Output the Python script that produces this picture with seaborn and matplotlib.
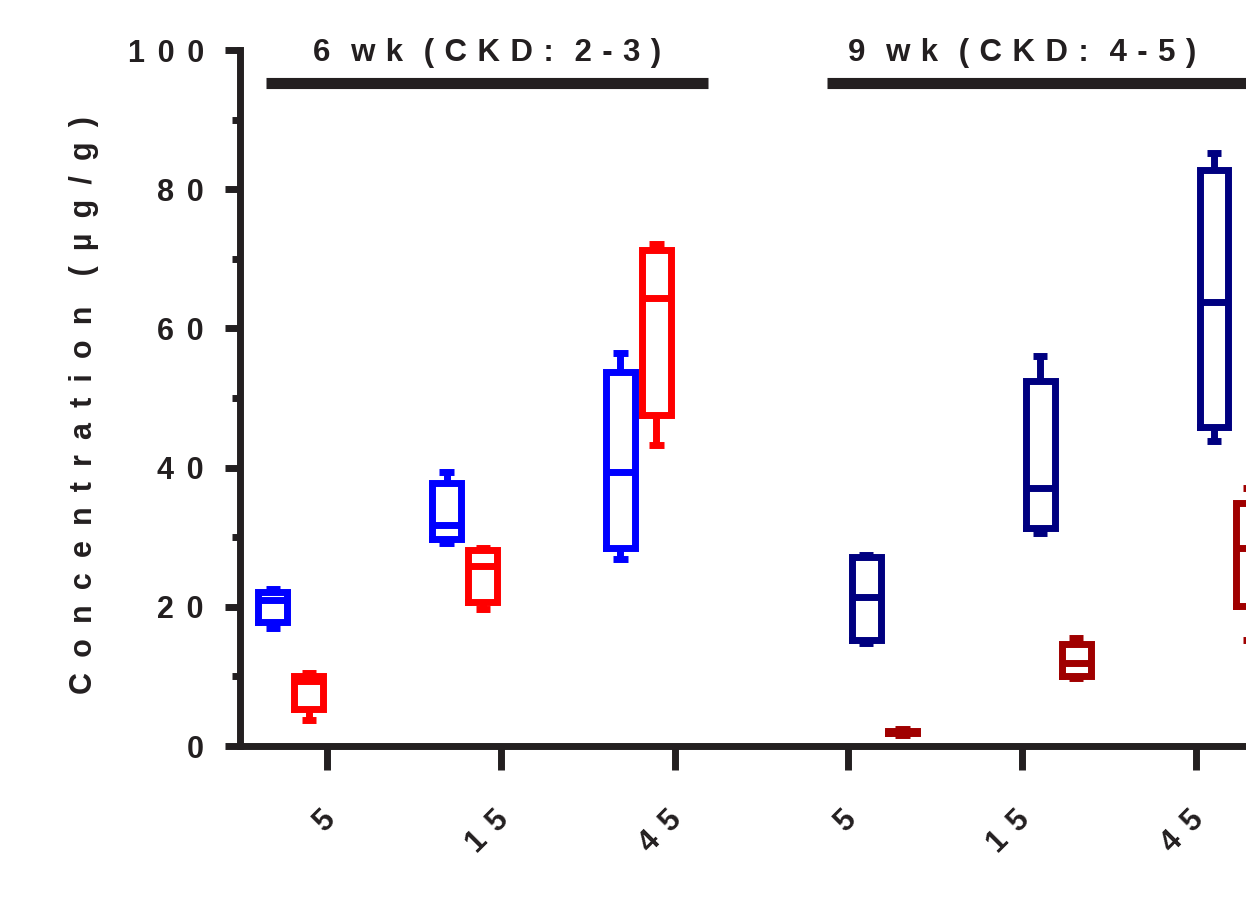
import numpy as np
import pandas as pd
import matplotlib
matplotlib.use("Agg")
import matplotlib.pyplot as plt
from matplotlib.transforms import ScaledTranslation
import seaborn as sns

# ---------------- data (min, Q1, median, Q3, max per box) ----------------
x_keys = ["6wk_5", "6wk_15", "6wk_45", "9wk_5", "9wk_15", "9wk_45"]
x_labels = ["5", "15", "45", "5", "15", "45"]
hue_levels = ["Series A (6 wk)", "Series B (6 wk)", "Series A (9 wk)", "Series B (9 wk)"]
hue_colors = ["#0000FF", "#FF0000", "#000080", "#A00000"]

series_a_6wk = {"6wk_5": [17.0, 17.8, 21.0, 22.1, 22.6],
                "6wk_15": [29.2, 29.8, 31.8, 37.8, 39.3],
                "6wk_45": [26.9, 28.5, 39.3, 53.7, 56.5]}
series_b_6wk = {"6wk_5": [3.7, 5.3, 9.4, 10.1, 10.5],
                "6wk_15": [19.7, 20.7, 25.8, 28.1, 28.4],
                "6wk_45": [43.2, 47.6, 64.4, 71.3, 72.1]}
series_a_9wk = {"9wk_5": [14.8, 15.3, 21.4, 27.1, 27.4],
                "9wk_15": [30.6, 31.3, 37.0, 52.5, 56.0],
                "9wk_45": [43.8, 45.8, 63.8, 82.7, 85.2]}
series_b_9wk = {"9wk_5": [1.6, 1.9, 2.0, 2.1, 2.5],
                "9wk_15": [9.7, 10.1, 11.9, 14.7, 15.5],
                "9wk_45": [15.2, 20.1, 28.5, 34.9, 37.0]}

y_ticks = [0, 20, 40, 60, 80, 100]
y_tick_labels = ["0", "20", "40", "60", "80", "100"]
y_label_words = ["Concentration", "(µg/g)"]
group_title_words = [["6", "wk", "(CKD:", "2-3)"], ["9", "wk", "(CKD:", "4-5)"]]
group_title_x = [0.92, 4.0]
group_bar_spans = [(-0.35, 2.19), (2.88, 5.6)]

# wide letter spacing (as in the exported original)
GAP = "\u2004\u200A"


def spaced(words, gap=GAP):
    return (gap + gap).join(gap.join(list(w)) for w in words)


# ---------------- build long table ----------------
rows = []
for level, d in zip(hue_levels, [series_a_6wk, series_b_6wk, series_a_9wk, series_b_9wk]):
    for key, vals in d.items():
        for v in vals:
            rows.append({"dose": key, "group": level, "value": v})
df = pd.DataFrame(rows)

# ---------------- style ----------------
sns.set_style("ticks")
plt.rcParams["font.family"] = ["Liberation Sans", "DejaVu Sans"]
plt.rcParams["font.weight"] = "bold"
ink = "#231F20"

fig = plt.figure(figsize=(12.46, 9.0), dpi=100)
ax = fig.add_axes([240 / 1246, 154 / 900, 6 * 173.8 / 1246, 696 / 900])

kw = dict(data=df, x="dose", y="value", hue="group", order=x_keys,
          hue_order=hue_levels, palette=hue_colors, fill=False, dodge=True,
          width=0.83, gap=0.2, whis=(0, 100), linewidth=5, legend=False, ax=ax)
try:
    sns.boxplot(**kw, capwidths=0.082)
except TypeError:
    ax.cla()
    sns.boxplot(**kw)

for ln in ax.lines:
    if len(ln.get_xdata()) == 2:
        ln.set_solid_capstyle("butt")
    else:
        ln.set_solid_capstyle("projecting")
        ln.set_solid_joinstyle("miter")

ax.set_xlim(-0.5, 5.5)
ax.set_ylim(0, 100)

for s in ["top", "right"]:
    ax.spines[s].set_visible(False)
for s in ["left", "bottom"]:
    ax.spines[s].set_linewidth(5)
    ax.spines[s].set_color(ink)

ax.set_yticks(y_ticks)
ax.set_yticklabels([spaced([t]) for t in y_tick_labels], fontsize=22,
                   fontweight="bold", color=ink)
ax.set_yticks(np.arange(10, 100, 20), minor=True)
ax.tick_params(axis="y", which="major", length=11, width=5, color=ink, pad=15)
ax.tick_params(axis="y", which="minor", length=6, width=5, color=ink)

ax.set_xticks(range(len(x_keys)))
ax.set_xticklabels([spaced([t]) for t in x_labels], fontsize=22,
                   fontweight="bold", color=ink, rotation=45, ha="right")
ax.tick_params(axis="x", which="major", length=17, width=5, color=ink, pad=25)
ax.tick_params(axis="x", which="minor", bottom=False)
shift = ScaledTranslation(10 / 72, 0, fig.dpi_scale_trans)
for lab in ax.get_xticklabels():
    lab.set_transform(lab.get_transform() + shift)

ax.set_xlabel("")
ax.set_ylabel(spaced(y_label_words, "\u2004\u200A\u200A"), fontsize=22,
              fontweight="bold", color=ink)
ax.yaxis.set_label_coords(-0.135, 0.49)

for words, tx, (x0, x1) in zip(group_title_words, group_title_x, group_bar_spans):
    ax.text(tx, 99.5, spaced(words, "\u2004"), ha="center", va="center",
            fontsize=22.5, fontweight="bold", color=ink, clip_on=False)
    ax.plot([x0, x1], [95.3, 95.3], color=ink, lw=8, solid_capstyle="butt",
            clip_on=False)

fig.savefig("out.png", dpi=100)
